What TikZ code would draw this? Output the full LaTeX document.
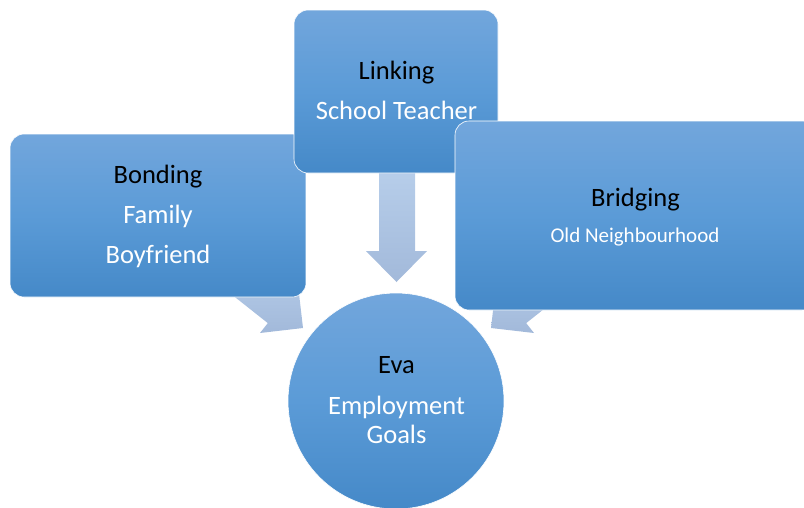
\documentclass[tikz,border=0pt]{standalone}
\usepackage{fontspec}
\setmainfont{Carlito}
\definecolor{boxtop}{HTML}{72A6DC}
\definecolor{boxmid}{HTML}{5B9BD7}
\definecolor{boxbot}{HTML}{4589C8}
\definecolor{arrtop}{HTML}{B8CFEB}
\definecolor{arrbot}{HTML}{A2B9DA}
\begin{document}
\begin{tikzpicture}[x=1pt,y=-1pt,
  box/.style={rectangle, rounded corners=14pt, draw=white, line width=0.6pt,
    top color=boxtop, bottom color=boxbot, middle color=boxmid, inner sep=0pt},
  blockarrow/.style={top color=arrtop, bottom color=arrbot, draw=none},
  head/.style={anchor=base, text=black, font=\fontsize{26.5}{30}\selectfont},
  sub/.style={anchor=base, text=white, font=\fontsize{26.5}{30}\selectfont},
  subsmall/.style={anchor=base, text=white, font=\fontsize{21}{25}\selectfont}]
\useasboundingbox (0,0) rectangle (804,507);
\clip (0,0) rectangle (804,507);
% block arrows (beneath the shapes)
\coordinate (dtip) at (396.5,282);
\shade[blockarrow] (379,165) -- (379,251) -- (366,251) -- (dtip) -- (427,251) -- (415,251) -- (415,165) -- cycle;
\coordinate (ltip) at (303,328);
\shade[blockarrow] (221.2,286.2) -- (267.8,323.1) -- (260,333) -- (ltip) -- (298,285) -- (290.2,294.9) -- (243.6,258) -- cycle;
\coordinate (rtip) at (491,328);
\shade[blockarrow] (572.8,286.2) -- (526.2,323.1) -- (534,333) -- (rtip) -- (496,285) -- (503.8,294.9) -- (550.4,258) -- cycle;
% boxes
\node[box, minimum width=296pt, minimum height=163pt] (bond) at (158,215.5) {};
\node[box, minimum width=204pt, minimum height=163pt] (link) at (396,91.5) {};
\node[box, minimum width=361pt, minimum height=189pt] (bridge) at (635.5,215.5) {};
\node[circle, draw=white, line width=0.6pt, top color=boxtop, bottom color=boxbot, middle color=boxmid, minimum size=216pt, inner sep=0pt] (eva) at (396,401) {};
% texts
\node[head] (t1) at (158,183) {Bonding};
\node[sub] (t2) at (158,223) {Family};
\node[sub] (t3) at (158,263) {Boyfriend};
\node[head] (t4) at (396.5,79) {Linking};
\node[sub] (t5) at (396.5,119) {School Teacher};
\node[head] (t6) at (635.5,206) {Bridging};
\node[subsmall] (t7) at (635,242) {Old Neighbourhood};
\node[head] (t8) at (396.5,373) {Eva};
\node[sub] (t9) at (396.5,414) {Employment};
\node[sub] (t10) at (396.5,443) {Goals};
\end{tikzpicture}
\end{document}
